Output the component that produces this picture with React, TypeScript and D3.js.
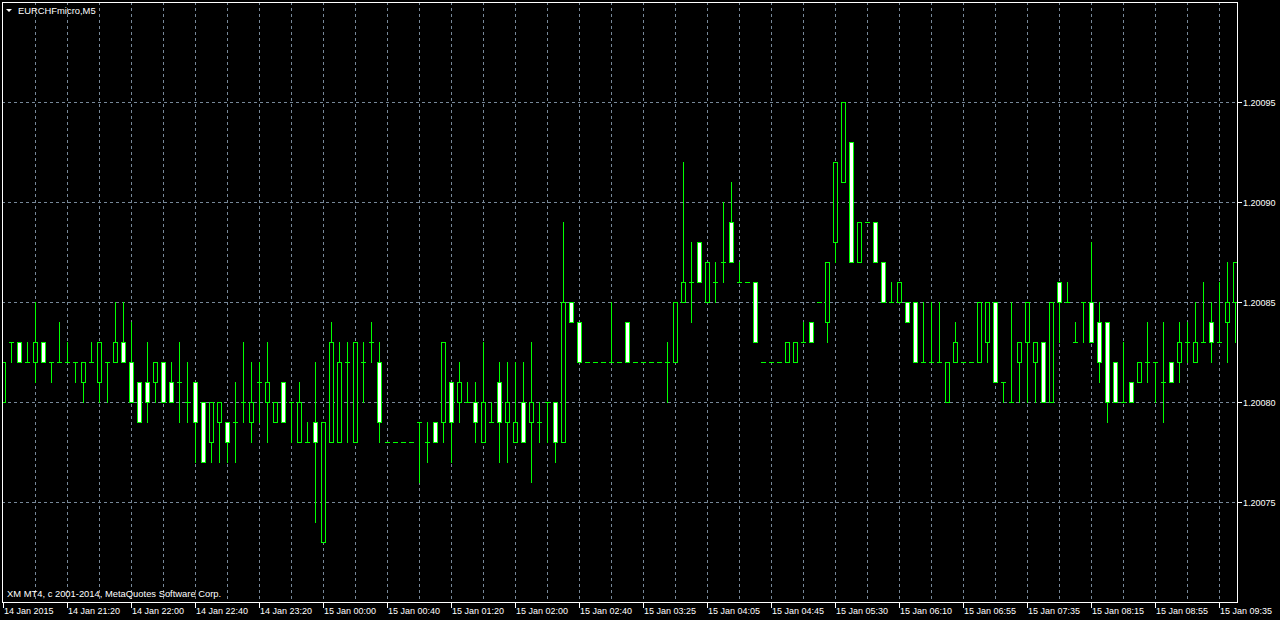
import React, { useEffect } from "react";
import * as d3 from "d3";

// ---- data (EURCHFmicro, M5) ----
const SYMBOL_TITLE = "EURCHFmicro,M5";
const COPYRIGHT = "XM MT4, c 2001-2014, MetaQuotes Software Corp.";

const BAR_OPEN = [
  1.20080, 1.20083, 1.20083, 1.20082, 1.20082, 1.20083, 1.20082, 1.20082, 1.20082, 1.20082,
  1.20081, 1.20082, 1.20081, 1.20082, 1.20082, 1.20083, 1.20082, 1.20081, 1.20081, 1.20081,
  1.20082, 1.20081, 1.20081, 1.20080, 1.20081, 1.20080, 1.20078, 1.20079, 1.20079, 1.20079,
  1.20080, 1.20079, 1.20081, 1.20080, 1.20079, 1.20081, 1.20080, 1.20078, 1.20078, 1.20079,
  1.20073, 1.20078, 1.20078, 1.20082, 1.20078, 1.20082, 1.20083, 1.20082, 1.20078, 1.20078,
  1.20078, 1.20078, 1.20079, 1.20078, 1.20079, 1.20079, 1.20081, 1.20080, 1.20080, 1.20080,
  1.20078, 1.20079, 1.20081, 1.20079, 1.20078, 1.20080, 1.20079, 1.20079, 1.20080, 1.20080,
  1.20078, 1.20085, 1.20084, 1.20082, 1.20082, 1.20082, 1.20082, 1.20082, 1.20084, 1.20082,
  1.20082, 1.20082, 1.20082, 1.20082, 1.20082, 1.20085, 1.20086, 1.20088, 1.20085, 1.20086,
  1.20087, 1.20089, 1.20086, 1.20086, 1.20086, 1.20082, 1.20082, 1.20082, 1.20082, 1.20082,
  1.20083, 1.20084, 1.20085, 1.20084, 1.20088, 1.20091, 1.20093, 1.20087, 1.20089, 1.20089,
  1.20087, 1.20085, 1.20085, 1.20085, 1.20085, 1.20082, 1.20082, 1.20082, 1.20080, 1.20082,
  1.20082, 1.20082, 1.20082, 1.20083, 1.20085, 1.20081, 1.20080, 1.20082, 1.20083, 1.20082,
  1.20083, 1.20080, 1.20086, 1.20085, 1.20083, 1.20085, 1.20085, 1.20084, 1.20084, 1.20082,
  1.20080, 1.20081, 1.20081, 1.20082, 1.20082, 1.20081, 1.20082, 1.20082, 1.20083, 1.20082,
  1.20083, 1.20084, 1.20083, 1.20084, 1.20085,
];

const BAR_HIGH = [
  1.20082, 1.20083, 1.20083, 1.20083, 1.20085, 1.20083, 1.20082, 1.20084, 1.20083, 1.20082,
  1.20082, 1.20083, 1.20083, 1.20082, 1.20085, 1.20085, 1.20084, 1.20081, 1.20083, 1.20082,
  1.20082, 1.20082, 1.20083, 1.20082, 1.20081, 1.20080, 1.20080, 1.20080, 1.20079, 1.20081,
  1.20083, 1.20082, 1.20082, 1.20083, 1.20080, 1.20081, 1.20080, 1.20081, 1.20079, 1.20082,
  1.20079, 1.20084, 1.20083, 1.20083, 1.20083, 1.20083, 1.20084, 1.20083, 1.20078, 1.20078,
  1.20078, 1.20078, 1.20079, 1.20079, 1.20079, 1.20083, 1.20081, 1.20082, 1.20081, 1.20081,
  1.20083, 1.20080, 1.20082, 1.20082, 1.20082, 1.20082, 1.20083, 1.20080, 1.20080, 1.20080,
  1.20089, 1.20085, 1.20084, 1.20082, 1.20082, 1.20082, 1.20085, 1.20082, 1.20084, 1.20082,
  1.20082, 1.20082, 1.20082, 1.20083, 1.20085, 1.20092, 1.20088, 1.20088, 1.20087, 1.20087,
  1.20090, 1.20091, 1.20087, 1.20086, 1.20086, 1.20082, 1.20082, 1.20082, 1.20083, 1.20083,
  1.20084, 1.20084, 1.20085, 1.20087, 1.20092, 1.20095, 1.20093, 1.20089, 1.20089, 1.20089,
  1.20087, 1.20086, 1.20086, 1.20085, 1.20085, 1.20085, 1.20085, 1.20085, 1.20082, 1.20084,
  1.20082, 1.20082, 1.20085, 1.20085, 1.20085, 1.20081, 1.20085, 1.20083, 1.20085, 1.20083,
  1.20083, 1.20085, 1.20086, 1.20086, 1.20084, 1.20085, 1.20088, 1.20085, 1.20084, 1.20082,
  1.20083, 1.20081, 1.20082, 1.20084, 1.20082, 1.20084, 1.20082, 1.20084, 1.20084, 1.20085,
  1.20086, 1.20085, 1.20086, 1.20087, 1.20087,
];

const BAR_LOW = [
  1.20080, 1.20082, 1.20082, 1.20082, 1.20081, 1.20082, 1.20081, 1.20082, 1.20082, 1.20081,
  1.20080, 1.20082, 1.20080, 1.20080, 1.20082, 1.20082, 1.20080, 1.20079, 1.20079, 1.20080,
  1.20080, 1.20080, 1.20079, 1.20079, 1.20077, 1.20077, 1.20077, 1.20077, 1.20077, 1.20077,
  1.20079, 1.20078, 1.20079, 1.20078, 1.20079, 1.20079, 1.20078, 1.20078, 1.20078, 1.20074,
  1.20073, 1.20078, 1.20078, 1.20078, 1.20078, 1.20080, 1.20082, 1.20078, 1.20078, 1.20078,
  1.20078, 1.20078, 1.20076, 1.20077, 1.20078, 1.20078, 1.20077, 1.20079, 1.20080, 1.20078,
  1.20078, 1.20079, 1.20077, 1.20077, 1.20078, 1.20078, 1.20076, 1.20078, 1.20078, 1.20077,
  1.20078, 1.20084, 1.20082, 1.20082, 1.20082, 1.20082, 1.20082, 1.20082, 1.20082, 1.20082,
  1.20082, 1.20082, 1.20082, 1.20080, 1.20082, 1.20085, 1.20084, 1.20086, 1.20085, 1.20085,
  1.20086, 1.20087, 1.20086, 1.20086, 1.20083, 1.20082, 1.20082, 1.20082, 1.20082, 1.20082,
  1.20083, 1.20083, 1.20085, 1.20083, 1.20087, 1.20091, 1.20087, 1.20087, 1.20089, 1.20087,
  1.20085, 1.20085, 1.20085, 1.20084, 1.20082, 1.20082, 1.20082, 1.20082, 1.20080, 1.20082,
  1.20082, 1.20082, 1.20082, 1.20082, 1.20081, 1.20080, 1.20080, 1.20080, 1.20080, 1.20080,
  1.20080, 1.20080, 1.20083, 1.20085, 1.20083, 1.20083, 1.20083, 1.20081, 1.20079, 1.20080,
  1.20080, 1.20080, 1.20081, 1.20081, 1.20080, 1.20079, 1.20081, 1.20081, 1.20082, 1.20082,
  1.20083, 1.20082, 1.20083, 1.20082, 1.20083,
];

const BAR_CLOSE = [
  1.20082, 1.20083, 1.20082, 1.20082, 1.20083, 1.20082, 1.20082, 1.20082, 1.20082, 1.20082,
  1.20082, 1.20082, 1.20083, 1.20082, 1.20083, 1.20082, 1.20080, 1.20079, 1.20080, 1.20082,
  1.20080, 1.20080, 1.20081, 1.20080, 1.20079, 1.20077, 1.20080, 1.20080, 1.20078, 1.20079,
  1.20080, 1.20080, 1.20081, 1.20081, 1.20080, 1.20079, 1.20080, 1.20080, 1.20078, 1.20078,
  1.20079, 1.20083, 1.20082, 1.20082, 1.20083, 1.20082, 1.20083, 1.20079, 1.20078, 1.20078,
  1.20078, 1.20078, 1.20079, 1.20078, 1.20078, 1.20083, 1.20079, 1.20081, 1.20080, 1.20079,
  1.20080, 1.20079, 1.20079, 1.20080, 1.20079, 1.20078, 1.20080, 1.20079, 1.20080, 1.20078,
  1.20085, 1.20084, 1.20082, 1.20082, 1.20082, 1.20082, 1.20082, 1.20082, 1.20082, 1.20082,
  1.20082, 1.20082, 1.20082, 1.20082, 1.20085, 1.20086, 1.20086, 1.20086, 1.20087, 1.20086,
  1.20087, 1.20087, 1.20086, 1.20086, 1.20083, 1.20082, 1.20082, 1.20082, 1.20083, 1.20083,
  1.20083, 1.20083, 1.20085, 1.20087, 1.20092, 1.20095, 1.20087, 1.20089, 1.20089, 1.20087,
  1.20085, 1.20085, 1.20086, 1.20084, 1.20082, 1.20082, 1.20082, 1.20082, 1.20082, 1.20083,
  1.20082, 1.20082, 1.20085, 1.20085, 1.20081, 1.20081, 1.20080, 1.20083, 1.20085, 1.20083,
  1.20080, 1.20085, 1.20085, 1.20085, 1.20083, 1.20085, 1.20083, 1.20082, 1.20080, 1.20080,
  1.20080, 1.20080, 1.20082, 1.20082, 1.20082, 1.20081, 1.20081, 1.20083, 1.20083, 1.20083,
  1.20083, 1.20083, 1.20083, 1.20085, 1.20087,
];

const TIME_LABELS = [
  "14 Jan 2015", "14 Jan 21:20", "14 Jan 22:00", "14 Jan 22:40", "14 Jan 23:20",
  "15 Jan 00:00", "15 Jan 00:40", "15 Jan 01:20", "15 Jan 02:00", "15 Jan 02:40",
  "15 Jan 03:25", "15 Jan 04:05", "15 Jan 04:45", "15 Jan 05:30", "15 Jan 06:10",
  "15 Jan 06:55", "15 Jan 07:35", "15 Jan 08:15", "15 Jan 08:55", "15 Jan 09:35",
];
const TIME_LABEL_BARS = [0, 8, 16, 24, 32, 40, 48, 56, 64, 72, 80, 88, 96, 104, 112, 120, 128, 136, 144, 152];
const PRICE_TICKS = [1.20075, 1.2008, 1.20085, 1.2009, 1.20095];

// ---- style ----
const BG = "#000000";
const FG = "#ffffff";
const CANDLE = "#00ff00";
const GRID = "#778899";
const FONT = "'Liberation Sans', Arial, sans-serif";

const W = 1280;
const H = 620;
const LEFT = 2;
const TOP = 2;
const RIGHT = 1237;
const BOTTOM = 602;

export default function App() {
  useEffect(() => {
    document.body.style.margin = "0";
    document.body.style.background = BG;
    document.body.style.overflow = "hidden";
  }, []);

  const n = BAR_OPEN.length;
  const x = d3.scaleLinear().domain([0, n - 1]).range([3, 3 + 8 * (n - 1)]);
  const y = d3.scaleLinear().domain([1.20075, 1.20095]).range([502, 102]);
  const col = (i: number) => Math.round(x(i));
  const row = (p: number) => Math.round(y(p));

  const gridBars = d3.range(4, n, 4);

  return (
    <svg
      width={W}
      height={H}
      style={{ position: "absolute", left: 0, top: 0, background: BG, display: "block" }}
      shapeRendering="crispEdges"
    >
      <defs>
        <clipPath id="plot">
          <rect x={LEFT + 1} y={TOP + 1} width={RIGHT - LEFT - 1} height={BOTTOM - TOP - 1} />
        </clipPath>
      </defs>
      <rect x={0} y={0} width={W} height={H} fill={BG} />

      {/* grid */}
      <g stroke={GRID} strokeWidth={1} strokeDasharray="3,3">
        {gridBars.map((b) => (
          <line key={"v" + b} x1={col(b) + 0.5} x2={col(b) + 0.5} y1={TOP} y2={BOTTOM} />
        ))}
        {PRICE_TICKS.map((p) => (
          <line key={"h" + p} x1={LEFT} x2={RIGHT} y1={row(p) + 0.5} y2={row(p) + 0.5} />
        ))}
      </g>

      {/* candles */}
      <g clipPath="url(#plot)">
        {BAR_OPEN.map((o, i) => {
          const c = col(i);
          const yo = row(o);
          const yc = row(BAR_CLOSE[i]);
          const yh = row(BAR_HIGH[i]);
          const yl = row(BAR_LOW[i]);
          const top = Math.min(yo, yc);
          const bot = Math.max(yo, yc);
          const bull = BAR_CLOSE[i] > o;
          return (
            <g key={i}>
              <rect x={c} y={yh} width={1} height={yl - yh + 1} fill={CANDLE} />
              {yo === yc ? (
                <rect x={c - 2} y={yo} width={5} height={1} fill={CANDLE} />
              ) : (
                <>
                  <rect x={c - 2} y={top} width={5} height={bot - top + 1} fill={CANDLE} />
                  <rect x={c - 1} y={top + 1} width={3} height={bot - top - 1} fill={bull ? BG : FG} />
                </>
              )}
            </g>
          );
        })}
      </g>

      {/* frame */}
      <rect
        x={LEFT + 0.5}
        y={TOP + 0.5}
        width={RIGHT - LEFT}
        height={BOTTOM - TOP}
        fill="none"
        stroke={FG}
        strokeWidth={1}
      />

      {/* price axis */}
      <g fontFamily={FONT} fontSize={9} fill={FG}>
        {PRICE_TICKS.map((p) => (
          <g key={"pt" + p}>
            <rect x={RIGHT + 1} y={row(p)} width={4} height={1} fill={FG} />
            <text x={RIGHT + 6} y={row(p) + 4}>
              {d3.format(".5f")(p)}
            </text>
          </g>
        ))}
      </g>

      {/* time axis */}
      <g fontFamily={FONT} fontSize={9} fill={FG}>
        {TIME_LABELS.map((t, k) => {
          const c = col(TIME_LABEL_BARS[k]);
          return (
            <g key={"tl" + k}>
              <rect x={c} y={BOTTOM + 1} width={1} height={5} fill={FG} />
              <text x={c + 1} y={614}>
                {t}
              </text>
            </g>
          );
        })}
      </g>

      {/* title */}
      <path d="M6,9 L12,9 L9,12 Z" fill={FG} shapeRendering="auto" />
      <text x={18} y={14} fontFamily={FONT} fontSize={9.4} fill={FG}>
        {SYMBOL_TITLE}
      </text>

      {/* copyright */}
      <text x={7} y={597} fontFamily={FONT} fontSize={9.4} fill={FG}>
        {COPYRIGHT}
      </text>
    </svg>
  );
}
